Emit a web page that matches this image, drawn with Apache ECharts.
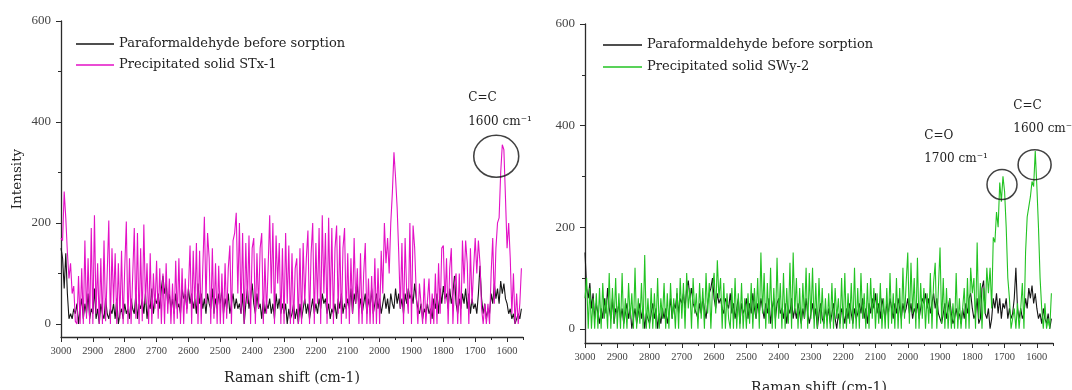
<!DOCTYPE html>
<html>
<head>
<meta charset="utf-8">
<script src="https://cdn.jsdelivr.net/npm/echarts@6/dist/echarts.min.js"></script>
<style>
html,body{margin:0;padding:0;background:#fff;}
#chart{width:1072px;height:390px;}
</style>
</head>
<body>
<div id="chart"></div>
<script>
// Raman shift sampling (cm-1): start and step of the spectral grid
const SHIFT_START = 3000;
const SHIFT_STEP = 5;
const X_TICKS = [3000,2900,2800,2700,2600,2500,2400,2300,2200,2100,2000,1900,1800,1700,1600];
const X_MINOR = [2950,2850,2750,2650,2550,2450,2350,2250,2150,2050,1950,1850,1750,1650,1550];
const Y_TICKS = [0,200,400,600];
const Y_MINOR = [100,300,500];

const NAME_PARA = 'Paraformaldehyde before sorption';
const NAME_STX = 'Precipitated solid STx-1';
const NAME_SWY = 'Precipitated solid SWy-2';

// Left panel: paraformaldehyde (black)
const paraLeft = [
150,130,70,140,60,10,20,10,30,20,
40,0,30,50,10,40,20,60,10,30,
20,70,10,30,0,40,20,10,50,20,
10,30,20,40,10,50,0,20,30,10,
40,20,30,10,50,30,20,60,10,40,
30,50,20,60,10,40,30,70,20,50,
40,60,30,70,95,60,80,40,60,30,
50,20,60,30,40,20,70,50,60,30,
70,40,60,30,50,20,80,40,60,30,
50,20,60,40,30,70,20,50,30,60,
40,70,20,50,30,60,20,40,60,30,
50,30,40,20,60,0,40,70,30,50,
80,40,20,60,30,40,10,50,20,40,
30,50,20,40,10,60,30,50,20,40,
20,40,0,30,10,20,40,10,30,0,
40,10,30,50,20,40,10,30,50,20,
40,20,50,30,60,40,50,20,40,10,
30,20,40,10,50,30,60,20,40,30,
50,30,70,20,60,40,80,30,50,20,
40,60,20,50,30,70,20,40,60,30,
50,20,40,60,30,50,20,60,40,30,
70,40,60,30,50,20,60,40,70,50,
60,40,80,50,30,20,40,10,30,20,
40,20,30,10,50,30,60,20,70,40,
75,50,60,30,70,40,60,95,40,20,
50,30,60,40,70,30,60,20,50,30,
40,20,60,115,50,20,40,10,30,20,
60,40,80,50,70,40,85,60,80,50,
40,20,30,10,20,0,10,20,10,30
];

// Left panel: precipitated solid STx-1 (magenta)
const stx1 = [
170,165,262,210,142,90,120,60,75,5,
0,95,0,110,0,165,10,130,0,190,
0,215,20,120,0,130,0,165,5,100,
205,0,150,40,140,0,120,10,145,0,
110,203,0,130,0,95,190,10,180,0,
150,5,197,40,120,0,140,0,100,30,
125,10,110,0,100,0,120,20,90,0,
80,0,125,10,130,0,110,0,90,20,
70,155,0,145,30,160,0,145,0,110,
212,40,180,130,0,150,10,120,0,115,
0,100,0,120,10,110,155,0,165,180,
220,60,200,20,180,0,160,40,175,0,
150,170,0,140,30,150,180,0,130,20,
110,215,60,200,0,175,80,160,0,150,
0,180,40,155,0,140,0,110,130,0,
150,0,160,40,130,185,0,140,200,0,
160,40,190,0,215,60,180,0,210,30,
190,0,150,195,20,175,0,150,190,10,
140,0,130,20,170,40,110,0,140,0,
100,160,0,90,0,95,0,130,0,110,
0,145,60,200,120,170,100,200,260,340,
290,230,140,30,160,0,170,60,20,200,
0,195,150,60,0,80,40,0,90,0,
0,90,0,60,0,100,0,120,20,150,
155,40,130,0,110,150,0,80,100,0,
100,0,165,80,165,120,0,150,40,110,
170,100,165,120,30,0,40,0,40,0,
100,170,40,150,200,210,300,355,345,250,
150,200,130,20,100,0,60,0,40,110
];

// Right panel: paraformaldehyde (black)
const paraRight = [
150,80,60,90,40,70,20,50,30,10,
40,20,60,30,80,40,20,60,10,40,
30,50,20,40,10,30,50,20,40,0,
20,40,10,30,50,20,40,0,30,20,
10,30,50,20,40,0,30,10,40,20,
40,10,30,60,20,50,40,70,30,60,
50,70,40,80,95,60,80,50,40,30,
20,50,30,60,40,20,50,70,80,100,
60,40,70,50,60,40,30,60,50,40,
70,30,50,20,40,60,10,50,30,40,
60,20,50,30,70,40,20,50,30,60,
40,20,50,30,60,10,40,60,20,50,
60,30,40,20,50,10,40,30,60,20,
40,20,50,30,10,40,20,60,30,10,
30,50,20,40,0,30,50,20,10,40,
20,40,10,30,50,20,0,30,10,40,
30,10,40,20,50,30,10,40,20,30,
50,30,60,20,40,10,50,30,60,40,
70,30,50,20,60,40,20,50,30,60,
40,20,50,30,60,40,20,50,30,40,
60,30,50,20,40,30,50,20,40,60,
50,70,40,60,30,50,70,40,60,30,
20,10,30,50,20,40,60,30,10,20,
40,20,30,10,40,20,50,30,60,70,
40,20,30,60,10,20,80,95,30,20,
40,0,20,60,40,70,30,60,20,50,
40,60,20,40,20,30,60,120,40,20,
40,20,30,60,40,80,60,85,50,70,
40,20,30,10,40,20,10,30,0,20
];

// Right panel: precipitated solid SWy-2 (green)
const swy2 = [
60,100,0,80,0,60,0,70,0,80,
0,90,20,60,0,110,0,80,10,100,
0,70,0,110,0,60,0,90,20,70,
0,120,0,60,10,90,0,145,0,60,
0,80,0,70,0,100,0,60,20,90,
0,70,0,90,20,60,0,80,0,100,
20,90,0,110,40,80,0,100,30,70,
0,90,20,80,0,110,30,90,0,80,
110,30,135,60,100,0,90,0,70,20,
0,80,0,100,0,70,0,90,0,60,
0,70,10,90,0,80,20,100,0,150,
30,110,0,90,10,120,0,80,0,140,
20,90,0,110,0,80,10,130,0,150,
30,100,0,80,0,90,20,120,0,110,
20,120,0,90,0,100,10,80,0,60,
0,70,0,90,0,80,20,60,0,100,
0,110,0,70,10,90,0,120,0,80,
0,110,20,70,0,90,0,100,20,80,
0,70,10,90,0,60,0,80,0,110,
10,70,0,100,0,80,0,120,20,90,
150,10,130,30,100,0,140,0,90,20,
80,0,70,10,110,0,90,130,0,80,
160,10,100,0,80,0,60,0,50,0,
110,0,60,0,40,80,0,100,0,120,
70,100,0,170,20,90,0,80,30,120,
70,120,40,180,170,230,200,288,250,300,
270,200,100,60,0,0,40,0,50,0,
40,90,0,150,220,240,260,290,280,350,
280,200,100,40,0,50,0,20,0,70
];

// Annotations (anchored in data coordinates)
const annLeft = [
  {text:'C=C', at:[1722, 447]},
  {text:'1600 cm\u207B\u00B9', at:[1722, 401]}
];
const annRight = [
  {text:'C=O', at:[1949, 379]},
  {text:'1700 cm\u207B\u00B9', at:[1949, 334]},
  {text:'C=C', at:[1673, 438]},
  {text:'1600 cm\u207B\u00B9', at:[1673, 393]}
];
const circlesLeft = [{at:[1634, 332], size:[45, 42]}];
const circlesRight = [{at:[1708, 284], size:[30, 30]}, {at:[1607, 323], size:[33, 30]}];

const X_MIN = 1550, X_MAX = 3000, Y_MIN_L = -26, Y_MIN_R = -28, Y_MAX = 600;

function pairs(vals){ return vals.map((v,i)=>[SHIFT_START - SHIFT_STEP*i, v]); }

const FONT = 'DejaVu Serif';
const NUM_FONT = 'Liberation Serif';
const AXIS_COLOR = '#2b2b2b';

function xAxes(grid, nameGap){
  return [
    {type:'value', gridIndex:grid, min:X_MIN, max:X_MAX, inverse:true, position:'bottom',
     splitLine:{show:false},
     axisLine:{show:true, onZero:false, lineStyle:{color:AXIS_COLOR, width:1.3}},
     axisTick:{show:true, customValues:X_TICKS, length:5, lineStyle:{color:AXIS_COLOR}},
     axisLabel:{show:true, customValues:X_TICKS, margin:9, color:'#444', fontFamily:NUM_FONT, fontSize:10.5,
       formatter:function(v){ return String(v); }},
     name:'Raman shift (cm-1)', nameLocation:'middle', nameGap:nameGap,
     nameTextStyle:{fontFamily:FONT, fontSize:14, color:'#222'}},
    {type:'value', gridIndex:grid, min:X_MIN, max:X_MAX, inverse:true, position:'bottom',
     splitLine:{show:false},
     axisLine:{show:false, onZero:false},
     axisTick:{show:true, customValues:X_MINOR, length:3, lineStyle:{color:AXIS_COLOR}},
     axisLabel:{show:false}}
  ];
}
function yAxes(grid, ymin, withName){
  const major = {type:'value', gridIndex:grid, min:ymin, max:Y_MAX, position:'left',
     splitLine:{show:false},
     axisLine:{show:true, onZero:false, lineStyle:{color:AXIS_COLOR, width:1.3}},
     axisTick:{show:true, customValues:Y_TICKS, length:5, lineStyle:{color:AXIS_COLOR}},
     axisLabel:{show:true, customValues:Y_TICKS, margin:10, color:'#444', fontFamily:NUM_FONT, fontSize:13,
       formatter:function(v){ return String(v); }}};
  if(withName){
    major.name = 'Intensity'; major.nameLocation='middle'; major.nameGap=37;
    major.nameTextStyle = {fontFamily:FONT, fontSize:13.5, color:'#222'};
  }
  return [major,
    {type:'value', gridIndex:grid, min:ymin, max:Y_MAX, position:'left',
     splitLine:{show:false},
     axisLine:{show:false, onZero:false},
     axisTick:{show:true, customValues:Y_MINOR, length:3, lineStyle:{color:AXIS_COLOR}},
     axisLabel:{show:false}}];
}

function lineSeries(name, vals, color, xi, yi, width){
  return {type:'line', name:name, data:pairs(vals), xAxisIndex:xi, yAxisIndex:yi,
    symbol:'none', smooth:false, animation:false,
    lineStyle:{color:color, width:width}, itemStyle:{color:color}};
}
function circleSeries(circles, xi, yi){
  return {type:'scatter', xAxisIndex:xi, yAxisIndex:yi, silent:true, animation:false,
    data:circles.map(c=>({value:c.at, symbolSize:c.size})),
    symbol:'circle',
    itemStyle:{color:'rgba(0,0,0,0)', borderColor:'#111', borderWidth:1.5}, z:5};
}

const PINK = '#e311c6';
const GREEN = '#22c322';
const BLACK = '#151515';

const option = {
  backgroundColor:'#fff',
  animation:false,
  grid:[
    {left:61, top:21, width:462, height:316, outerBoundsMode:'none', containLabel:false},
    {left:585, top:24, width:468, height:319, outerBoundsMode:'none', containLabel:false}
  ],
  legend:[
    {orient:'vertical', left:76, top:36, padding:0, itemWidth:38, itemHeight:1.5, itemGap:5, icon:'rect',
     data:[NAME_PARA, NAME_STX],
     textStyle:{fontFamily:FONT, fontSize:13, color:'#222', lineHeight:16}},
    {orient:'vertical', left:603, top:37, padding:0, itemWidth:39, itemHeight:1.5, itemGap:6, icon:'rect',
     data:[NAME_PARA, NAME_SWY],
     textStyle:{fontFamily:FONT, fontSize:13, color:'#222', lineHeight:16}}
  ],
  xAxis:[].concat(xAxes(0, 34), xAxes(1, 38)),
  yAxis:[].concat(yAxes(0, Y_MIN_L, true), yAxes(1, Y_MIN_R, false)),
  series:[
    lineSeries(NAME_PARA, paraLeft, BLACK, 0, 0, 1.1),
    lineSeries(NAME_STX, stx1, PINK, 0, 0, 1.1),
    lineSeries(NAME_PARA, paraRight, BLACK, 2, 2, 1.1),
    lineSeries(NAME_SWY, swy2, GREEN, 2, 2, 1.1),
    circleSeries(circlesLeft, 0, 0),
    circleSeries(circlesRight, 2, 2)
  ]
};

const chart = echarts.init(document.getElementById('chart'), null, {renderer:'canvas'});
chart.setOption(option);

function textGraphics(list, gridIndex){
  return list.map(a=>{
    const p = chart.convertToPixel({xAxisIndex:gridIndex*2, yAxisIndex:gridIndex*2}, a.at);
    return {type:'text', x:p[0], y:p[1], silent:true, z:10,
      style:{text:a.text, fill:'#222', font:'12px "DejaVu Serif"', verticalAlign:'middle'}};
  });
}
chart.setOption({graphic: textGraphics(annLeft, 0).concat(textGraphics(annRight, 1))});
</script>
</body>
</html>
